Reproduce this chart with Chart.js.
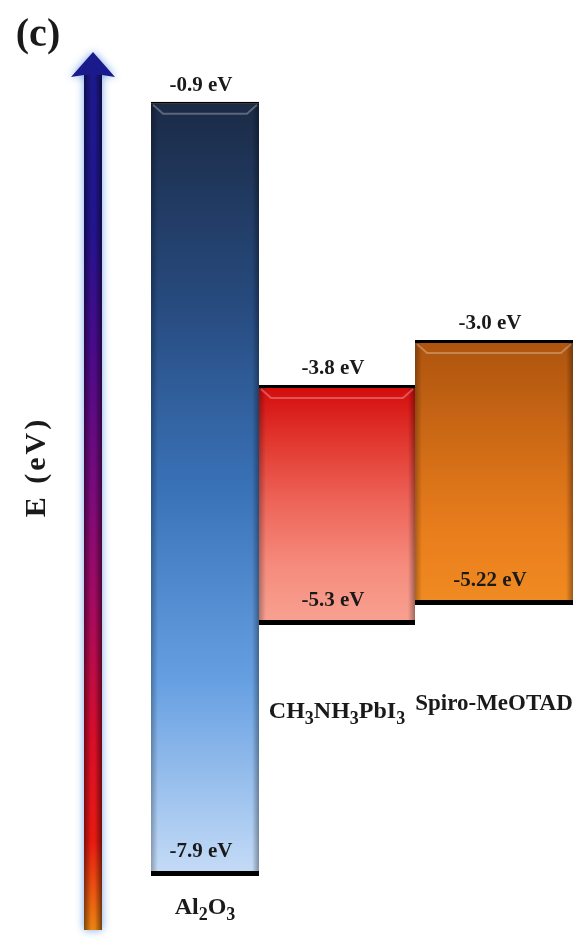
<!DOCTYPE html>
<html>
<head>
<meta charset="utf-8">
<script src="https://cdn.jsdelivr.net/npm/chart.js@4.4.1/dist/chart.umd.min.js"></script>
<style>
    html, body { margin: 0; padding: 0; background: #fff; }
    #wrap { width: 573px; height: 938px; position: relative; }
</style>
</head>
<body>
<div id="wrap"><canvas id="chart"></canvas></div>
<script>
// Band edges (eV)
const materials = ['Al2O3', 'CH3NH3PbI3', 'Spiro-MeOTAD'];
const upperLevels = [-0.9, -3.8, -3.0];
const lowerLevels = [-7.9, -5.3, -5.22];
const upperLabels = ['-0.9 eV', '-3.8 eV', '-3.0 eV'];
const lowerLabels = ['-7.9 eV', '-5.3 eV', '-5.22 eV'];

// Layout. The diagram is schematic (not to scale), so every column
// gets its own hidden energy axis.
const columnWidths = [108, 156, 158];
const axisRanges = [
    { min: -8.46, max: 0.02 },
    { min: -7.256, max: -1.394 },
    { min: -8.01, max: -0.152 }
];
const nameDrop = [38, 93, 105];
const nameSize = [24, 24, 23];
const topBorder = [2, 3, 3];
const fills = [
    ['#1b2a45', '#26497c', '#3a72b8', '#67a0e2', '#c6dcf7'],
    ['#d30b0b', '#e23a31', '#ee665a', '#f58b7c', '#f8a292'],
    ['#ad540e', '#c26213', '#d87118', '#ea7f1d', '#f08b22']
];
const FONT = '"Liberation Serif", "DejaVu Serif", serif';
const TEXT = '#1a1a1a';

// Build datasets
const totalWidth = columnWidths.reduce((a, b) => a + b, 0);
let run = 0;
const datasets = materials.map((name, i) => {
    const centre = run + columnWidths[i] / 2;
    run += columnWidths[i];
    const axisId = 'y' + i;
    return {
        label: name,
        data: [{ x: centre, y: [lowerLevels[i], upperLevels[i]] }],
        xAxisID: 'x',
        yAxisID: axisId,
        grouped: false,
        barThickness: columnWidths[i],
        inflateAmount: 0,
        borderSkipped: false,
        borderColor: '#000',
        borderWidth: { top: topBorder[i], bottom: 5, left: 0, right: 0 },
        backgroundColor(ctx) {
            const chart = ctx.chart;
            if (!chart.chartArea) return fills[i][2];
            const y = chart.scales[axisId];
            const g = chart.ctx.createLinearGradient(0, y.getPixelForValue(upperLevels[i]), 0, y.getPixelForValue(lowerLevels[i]));
            fills[i].forEach((c, k) => g.addColorStop(k / (fills[i].length - 1), c));
            return g;
        }
    };
});

const yScales = {};
axisRanges.forEach((r, i) => {
    yScales['y' + i] = { type: 'linear', min: r.min, max: r.max, display: false };
});

// Chemical formula with subscript digits
function drawFormula(ctx, text, cx, baseline, size) {
    const parts = text.match(/[^0-9]+|[0-9]+/g);
    const sub = Math.round(size * 0.74);
    let total = 0;
    parts.forEach(p => {
        ctx.font = `bold ${/\d/.test(p) ? sub : size}px ${FONT}`;
        total += ctx.measureText(p).width;
    });
    let x = cx - total / 2;
    ctx.textAlign = 'left';
    parts.forEach(p => {
        const isSub = /\d/.test(p);
        ctx.font = `bold ${isSub ? sub : size}px ${FONT}`;
        ctx.fillText(p, x, baseline + (isSub ? size * 0.26 : 0));
        x += ctx.measureText(p).width;
    });
}

// Energy arrow, axis title and panel letter
const arrowPlugin = {
    id: 'arrow',
    beforeDatasetsDraw(chart) {
        const ctx = chart.ctx;
        const cx = 93, tip = 52, headBase = 77, bottom = 930, half = 9, wing = 22;
        ctx.save();
        const g = ctx.createLinearGradient(0, tip, 0, bottom);
        g.addColorStop(0, '#1a1a8c');
        g.addColorStop(0.2, '#22148e');
        g.addColorStop(0.34, '#4a0a8a');
        g.addColorStop(0.5, '#7a0a7c');
        g.addColorStop(0.64, '#a80a5e');
        g.addColorStop(0.78, '#d80d2a');
        g.addColorStop(0.9, '#e81a10');
        g.addColorStop(1, '#ea8412');
        ctx.beginPath();
        ctx.moveTo(cx, tip);
        ctx.lineTo(cx + wing, headBase);
        ctx.lineTo(cx + half, headBase - 2);
        ctx.lineTo(cx + half, bottom);
        ctx.lineTo(cx - half, bottom);
        ctx.lineTo(cx - half, headBase - 2);
        ctx.lineTo(cx - wing, headBase);
        ctx.closePath();
        ctx.shadowColor = 'rgba(110,160,230,0.95)';
        ctx.shadowBlur = 9;
        ctx.fillStyle = g;
        ctx.fill();
        ctx.shadowBlur = 0;
        // rounded shading across the shaft
        const s = ctx.createLinearGradient(cx - half, 0, cx + half, 0);
        s.addColorStop(0, 'rgba(0,0,0,0.45)');
        s.addColorStop(0.4, 'rgba(0,0,0,0)');
        s.addColorStop(0.6, 'rgba(0,0,0,0)');
        s.addColorStop(1, 'rgba(0,0,0,0.5)');
        ctx.fillStyle = s;
        ctx.fillRect(cx - half, headBase - 2, half * 2, bottom - headBase + 2);
        ctx.restore();

        ctx.save();
        ctx.fillStyle = TEXT;
        ctx.font = `bold 40px ${FONT}`;
        ctx.textAlign = 'center';
        ctx.textBaseline = 'alphabetic';
        ctx.fillText('(c)', 38, 46);
        ctx.translate(37, 467);
        ctx.rotate(-Math.PI / 2);
        ctx.font = `bold 30px ${FONT}`;
        ctx.letterSpacing = '3px';
        ctx.textBaseline = 'middle';
        ctx.fillText('E (eV)', 0, 0);
        ctx.restore();
    }
};

// Bevel shading and level / material labels taken from the bar elements
const levelLabels = {
    id: 'levelLabels',
    afterDatasetsDraw(chart) {
        const ctx = chart.ctx;
        ctx.save();
        chart.data.datasets.forEach((ds, i) => {
            const bar = chart.getDatasetMeta(i).data[0];
            const left = bar.x - bar.width / 2, right = bar.x + bar.width / 2;
            const top = Math.min(bar.y, bar.base), bottom = Math.max(bar.y, bar.base);
            const inTop = top + topBorder[i], inBottom = bottom - 5;

            // darker side edges
            let e = ctx.createLinearGradient(left, 0, left + 7, 0);
            e.addColorStop(0, 'rgba(0,0,0,0.28)');
            e.addColorStop(1, 'rgba(0,0,0,0)');
            ctx.fillStyle = e;
            ctx.fillRect(left, inTop, 7, inBottom - inTop);
            e = ctx.createLinearGradient(right - 7, 0, right, 0);
            e.addColorStop(0, 'rgba(0,0,0,0)');
            e.addColorStop(1, 'rgba(0,0,0,0.35)');
            ctx.fillStyle = e;
            ctx.fillRect(right - 7, inTop, 7, inBottom - inTop);
            // light bevel near the top
            ctx.strokeStyle = 'rgba(255,255,255,0.28)';
            ctx.lineWidth = 2;
            ctx.beginPath();
            ctx.moveTo(left + 2, inTop + 1);
            ctx.lineTo(left + 12, inTop + 10);
            ctx.lineTo(right - 12, inTop + 10);
            ctx.lineTo(right - 2, inTop + 1);
            ctx.stroke();

            ctx.fillStyle = TEXT;
            ctx.textAlign = 'center';
            ctx.textBaseline = 'alphabetic';
            ctx.font = `bold 21px ${FONT}`;
            ctx.fillText(upperLabels[i], bar.x - 4, top - 11);
            ctx.fillText(lowerLabels[i], bar.x - 4, bottom - 19);
            drawFormula(ctx, materials[i], bar.x, bottom + nameDrop[i], nameSize[i]);
        });
        ctx.restore();
    }
};

const chart = new Chart(document.getElementById('chart'), {
    type: 'bar',
    data: { datasets },
    options: {
        responsive: true,
        maintainAspectRatio: false,
        animation: false,
        layout: { padding: { left: 151, right: 0, top: 0, bottom: 0 } },
        plugins: {
            legend: { display: false },
            tooltip: { enabled: false }
        },
        scales: {
            x: { type: 'linear', min: 0, max: totalWidth, offset: false, display: false },
            ...yScales
        }
    },
    plugins: [arrowPlugin, levelLabels]
});
</script>
</body>
</html>
